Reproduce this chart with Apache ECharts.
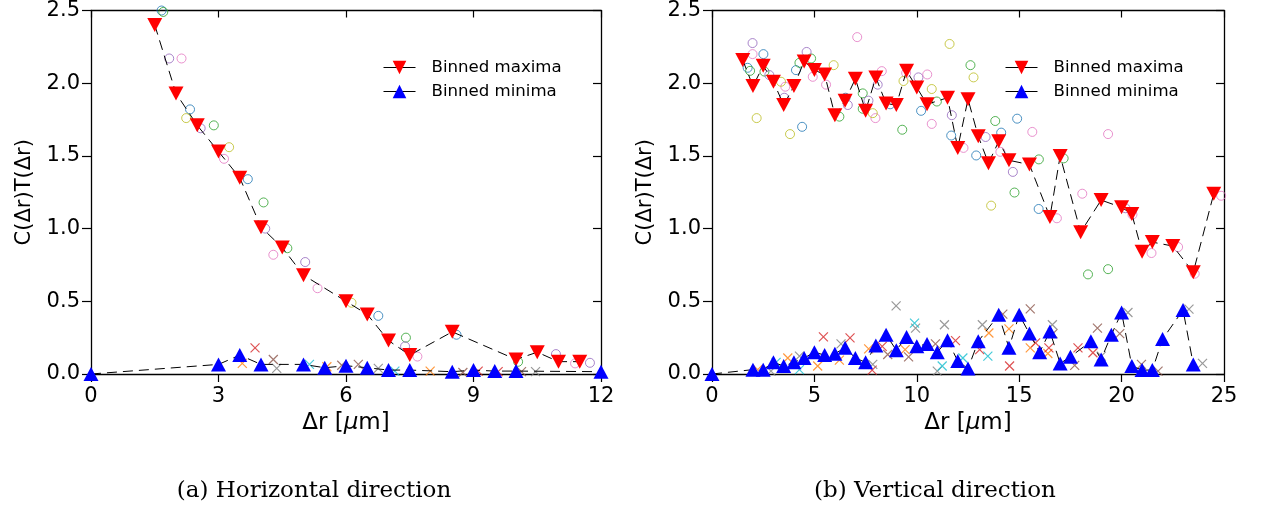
<!DOCTYPE html>
<html><head><meta charset="utf-8">
<script src="https://cdn.jsdelivr.net/npm/echarts@6/dist/echarts.min.js"></script>
<style>html,body{margin:0;padding:0;background:#fff}#c{width:1263px;height:512px}</style>
</head><body><div id="c"></div>
<script>
// ---------- data ----------
const palette = ['#1f77b4','#ff7f0e','#2ca02c','#d62728','#9467bd','#8c564b','#e377c2','#7f7f7f','#bcbd22','#17becf'];
const seriesNames = ['Binned maxima','Binned minima'];
const yTicks = [0, 0.5, 1.0, 1.5, 2.0, 2.5];
const hXTicks = [0, 3, 6, 9, 12];
const vXTicks = [0, 5, 10, 15, 20, 25];

// (a) horizontal
const hMaxX = [1.5, 2.0, 2.5, 3.0, 3.5, 4.0, 4.5, 5.0, 6.0, 6.5, 7.0, 7.5, 8.5, 10.0, 10.5, 11.0, 11.5];
const hMaxY = [2.40, 1.93, 1.71, 1.53, 1.35, 1.01, 0.87, 0.68, 0.50, 0.41, 0.23, 0.13, 0.29, 0.10, 0.15, 0.085, 0.085];
const hMinX = [0, 3.0, 3.5, 4.0, 5.0, 5.5, 6.0, 6.5, 7.0, 7.5, 8.5, 9.0, 9.5, 10.0, 12.0];
const hMinY = [0, 0.066, 0.13, 0.066, 0.066, 0.043, 0.057, 0.043, 0.027, 0.027, 0.016, 0.027, 0.02, 0.02, 0.016];
// individual maxima [x, y, colourIndex]
const hCircles = [[1.66,2.50,0],[1.70,2.49,2],[1.84,2.17,4],[2.13,2.17,6],[2.33,1.82,0],[2.24,1.76,8],[2.58,1.69,4],[2.89,1.71,2],[3.25,1.56,8],[3.13,1.48,6],[3.69,1.34,0],[4.06,1.18,2],[4.1,1.0,4],[4.62,0.865,2],[4.29,0.82,6],[5.04,0.77,4],[5.33,0.59,6],[6.13,0.49,8],[6.76,0.40,0],[7.41,0.25,2],[7.39,0.19,4],[7.68,0.12,6],[8.6,0.27,0],[10.05,0.084,2],[10.94,0.137,4],[11.39,0.073,6],[11.74,0.077,4]];
// individual minima [x, y, colourIndex]
const hCrosses = [[3.86,0.18,3],[3.56,0.073,1],[4.29,0.10,5],[4.37,0.039,7],[5.14,0.066,9],[5.55,0.05,1],[5.9,0.06,5],[6.29,0.066,5],[6.76,0.039,7],[7.15,0.02,9],[7.98,0.02,1],[8.75,0.01,5],[9.11,0.02,3],[9.58,0.016,3],[10.13,0.016,5],[10.46,0.016,7]];

// (b) vertical
const vMaxX = [1.5, 2.0, 2.5, 3.0, 3.5, 4.0, 4.5, 5.0, 5.5, 6.0, 6.5, 7.0, 7.5, 8.0, 8.5, 9.0, 9.5, 10.0, 10.5, 11.5, 12.0, 12.5, 13.0, 13.5, 14.0, 14.5, 15.5, 16.5, 17.0, 18.0, 19.0, 20.0, 20.5, 21.0, 21.5, 22.5, 23.5, 24.5];
const vMaxY = [2.16, 1.98, 2.12, 2.01, 1.85, 1.98, 2.15, 2.09, 2.06, 1.78, 1.88, 2.03, 1.81, 2.04, 1.86, 1.85, 2.085, 1.97, 1.855, 1.90, 1.555, 1.89, 1.635, 1.45, 1.60, 1.47, 1.44, 1.08, 1.50, 0.975, 1.196, 1.146, 1.10, 0.84, 0.907, 0.88, 0.70, 1.24];
const vMinX = [0, 2.0, 2.5, 3.0, 3.5, 4.0, 4.5, 5.0, 5.5, 6.0, 6.5, 7.0, 7.5, 8.0, 8.5, 9.0, 9.5, 10.0, 10.5, 11.0, 11.5, 12.0, 12.5, 13.0, 14.0, 14.5, 15.0, 15.5, 16.0, 16.5, 17.0, 17.5, 18.5, 19.0, 19.5, 20.0, 20.5, 21.0, 21.5, 22.0, 23.0, 23.5];
const vMinY = [0, 0.03, 0.03, 0.08, 0.055, 0.08, 0.11, 0.15, 0.13, 0.14, 0.18, 0.11, 0.08, 0.196, 0.27, 0.164, 0.255, 0.19, 0.207, 0.15, 0.232, 0.089, 0.037, 0.225, 0.407, 0.18, 0.407, 0.278, 0.15, 0.293, 0.073, 0.118, 0.225, 0.10, 0.27, 0.423, 0.055, 0.027, 0.027, 0.24, 0.44, 0.066];
const vCircles = [[1.98,2.276,4],[1.98,2.20,6],[2.51,2.20,0],[1.74,2.106,0],[1.86,2.085,2],[2.56,2.08,2],[2.80,2.056,4],[3.37,2.01,8],[3.58,1.976,6],[3.53,1.90,4],[2.18,1.76,8],[3.81,1.65,8],[4.40,1.70,0],[4.1,2.09,0],[4.27,2.14,2],[4.62,2.215,4],[4.84,2.17,2],[4.92,2.044,6],[5.94,2.124,8],[5.57,1.99,6],[6.22,1.77,2],[6.63,1.85,4],[6.52,1.90,0],[7.09,2.317,6],[7.36,1.93,2],[7.36,1.824,2],[7.64,1.88,4],[7.85,1.794,8],[7.98,1.76,6],[8.09,1.99,4],[8.29,2.083,6],[8.70,1.855,0],[9.29,1.68,2],[9.35,2.015,8],[9.48,2.07,6],[10.08,2.04,4],[10.51,2.06,6],[10.21,1.81,0],[10.73,1.96,8],[10.98,1.874,2],[10.73,1.72,6],[11.6,2.27,8],[11.71,1.78,4],[11.68,1.64,0],[12.28,1.555,6],[12.62,2.124,2],[12.77,2.04,8],[13.83,1.74,2],[14.9,1.756,0],[14.12,1.66,0],[13.36,1.63,4],[12.9,1.503,0],[14.08,1.528,6],[14.69,1.39,4],[15.64,1.665,6],[15.96,1.476,2],[14.77,1.248,2],[17.17,1.483,2],[18.08,1.24,6],[19.34,1.65,6],[13.63,1.158,8],[15.95,1.135,0],[16.84,1.071,6],[18.36,0.685,2],[19.34,0.721,2],[20.19,1.14,4],[20.53,1.096,6],[21.46,0.832,6],[22.76,0.873,6],[23.57,0.69,6],[24.86,1.226,6]];
const vCrosses = [[5.44,0.255,3],[6.74,0.248,3],[8.99,0.469,7],[9.89,0.35,9],[9.94,0.316,7],[11.35,0.339,7],[11.89,0.23,3],[5.16,0.055,1],[6.22,0.095,1],[6.3,0.207,7],[3.7,0.11,1],[3.13,0.08,9],[4.27,0.03,9],[2.23,0.03,1],[2.88,0.02,7],[4.27,0.123,7],[7.65,0.173,1],[7.85,0.066,7],[7.82,0.027,3],[8.31,0.19,3],[8.58,0.134,5],[9.43,0.168,1],[9.6,0.118,5],[10.91,0.207,5],[11.24,0.055,9],[11.0,0.02,7],[12.25,0.11,9],[13.47,0.123,9],[13.52,0.282,1],[13.2,0.339,7],[13.07,0.168,3],[14.2,0.412,5],[14.5,0.31,1],[15.54,0.448,5],[14.53,0.055,3],[15.54,0.18,1],[15.8,0.214,3],[16.4,0.141,1],[16.45,0.18,3],[16.62,0.339,7],[16.65,0.278,5],[17.71,0.059,5],[17.87,0.18,3],[18.6,0.146,3],[18.82,0.316,5],[19.01,0.123,7],[19.91,0.278,5],[20.31,0.423,7],[20.97,0.066,5],[21.78,0.02,5],[23.29,0.446,7],[23.95,0.073,7]];

const captions = ['(a) Horizontal direction', '(b) Vertical direction'];
const yName = 'C(Δr)T(Δr)';

// ---------- build ----------
const FONT = 'DejaVu Sans';
const zip = (xs, ys) => xs.map((x, i) => [x, ys[i]]);
const CROSS = 'path://M0,0L10,10M10,0L0,10';

function scatterGroups(points, axisIdx, kind) {
  const out = [];
  for (let c = 0; c < palette.length; c++) {
    const d = points.filter(p => p[2] === c).map(p => [p[0], p[1]]);
    if (!d.length) continue;
    out.push({
      type: 'scatter', xAxisIndex: axisIdx, yAxisIndex: axisIdx, z: 2,
      data: d, silent: true,
      symbol: kind === 'circle' ? 'circle' : CROSS,
      symbolSize: 9,
      itemStyle: { color: 'rgba(0,0,0,0)', borderColor: palette[c], borderWidth: kind === 'circle' ? 1 : 1.2 },
      emphasis: { disabled: true }
    });
  }
  return out;
}
function lineSeries(name, data, axisIdx, isMax) {
  return {
    type: 'line', name, xAxisIndex: axisIdx, yAxisIndex: axisIdx, z: 4,
    data, symbol: 'triangle', symbolRotate: isMax ? 180 : 0, symbolSize: [15, 14],
    itemStyle: { color: isMax ? '#ff0000' : '#0000ff' },
    lineStyle: { color: '#000', width: 1, type: [10, 6] },
    emphasis: { disabled: true }, clip: true
  };
}

const grids = [
  { left: 91, right: 1263 - 601, top: 8, bottom: 512 - 374 },
  { left: 712, right: 1263 - 1224, top: 8, bottom: 512 - 374 }
];
const axLine = { show: true, onZero: false, lineStyle: { color: '#000', width: 1.3 } };
function xAxes(g, max, interval) {
  return [
    { type: 'value', gridIndex: g, min: 0, max, interval, position: 'bottom',
      axisLine: axLine, axisTick: { show: true, length: 8, lineStyle: { color: '#000', width: 1.2 } },
      axisLabel: { fontSize: 21, fontFamily: FONT, color: '#000', margin: 12 },
      splitLine: { show: false },
      name: 'Δr [{i|μ}m]', nameLocation: 'middle', nameGap: 36,
      nameTextStyle: { fontSize: 23, fontFamily: FONT, color: '#000',
        rich: { i: { fontSize: 23, fontFamily: FONT, fontStyle: 'italic', color: '#000' } } } },
    { type: 'value', gridIndex: g, min: 0, max, interval, position: 'top',
      axisLine: axLine, axisTick: { show: true, inside: true, length: 7, lineStyle: { color: '#000', width: 1.2 } },
      axisLabel: { show: false }, splitLine: { show: false } }
  ];
}
function yAxes(g) {
  return [
    { type: 'value', gridIndex: g, min: 0, max: 2.5, interval: 0.5, position: 'left',
      axisLine: axLine, axisTick: { show: true, length: 9, lineStyle: { color: '#000', width: 1.2 } },
      axisLabel: { fontSize: 21, fontFamily: FONT, color: '#000', margin: 11, formatter: v => v.toFixed(1) },
      splitLine: { show: false },
      name: yName, nameLocation: 'middle', nameGap: 56,
      nameTextStyle: { fontSize: 21, fontFamily: FONT, color: '#000' } },
    { type: 'value', gridIndex: g, min: 0, max: 2.5, interval: 0.5, position: 'right',
      axisLine: axLine, axisTick: { show: true, inside: true, length: 8, lineStyle: { color: '#000', width: 1.2 } },
      axisLabel: { show: false }, splitLine: { show: false } }
  ];
}
const xa0 = xAxes(0, hXTicks[hXTicks.length - 1], hXTicks[1] - hXTicks[0]);
const xa1 = xAxes(1, vXTicks[vXTicks.length - 1], vXTicks[1] - vXTicks[0]);
const ya0 = yAxes(0), ya1 = yAxes(1);
const xAxis = [xa0[0], xa1[0], xa0[1], xa1[1]];
const yAxis = [ya0[0], ya1[0], ya0[1], ya1[1]];

function legend(left) {
  return { left, top: 54, orient: 'vertical', itemWidth: 32, itemHeight: 17, itemGap: 7,
    data: seriesNames, selectedMode: false,
    lineStyle: { type: 'solid', width: 1, color: '#000' },
    textStyle: { fontSize: 16.6, fontFamily: FONT, color: '#000', padding: [0, 0, 0, 11] } };
}

const series = [
  ...scatterGroups(hCircles, 0, 'circle'),
  ...scatterGroups(hCrosses, 0, 'cross'),
  ...scatterGroups(vCircles, 1, 'circle'),
  ...scatterGroups(vCrosses, 1, 'cross'),
  lineSeries(seriesNames[0], zip(hMaxX, hMaxY), 0, true),
  lineSeries(seriesNames[1], zip(hMinX, hMinY), 0, false),
  lineSeries(seriesNames[0], zip(vMaxX, vMaxY), 1, true),
  lineSeries(seriesNames[1], zip(vMinX, vMinY), 1, false)
];

const chart = echarts.init(document.getElementById('c'), null, { renderer: 'canvas' });
chart.setOption({
  animation: false,
  backgroundColor: '#fff',
  grid: grids,
  xAxis, yAxis,
  legend: [legend(378), legend(1000)],
  series,
  graphic: [
    { type: 'text', x: 314, y: 491, style: { text: captions[0], align: 'center', verticalAlign: 'middle', fontSize: 23, fontFamily: 'DejaVu Serif', fill: '#000' } },
    { type: 'text', x: 935, y: 491, style: { text: captions[1], align: 'center', verticalAlign: 'middle', fontSize: 23, fontFamily: 'DejaVu Serif', fill: '#000' } }
  ]
});
</script></body></html>
